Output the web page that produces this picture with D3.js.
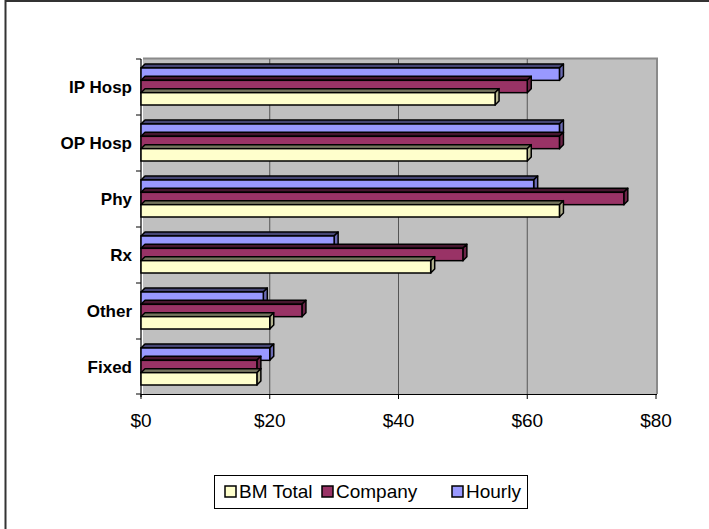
<!DOCTYPE html>
<html>
<head>
<meta charset="utf-8">
<script src="https://cdn.jsdelivr.net/npm/d3@7"></script>
<style>
  body { margin: 0; background: #fff; }
  text { font-family: Arial, "Liberation Sans", sans-serif; }
</style>
</head>
<body>
<svg id="chart" width="709" height="529"></svg>
<script>
// categories top to bottom
const categories = ["IP Hosp", "OP Hosp", "Phy", "Rx", "Other", "Fixed"];
const seriesNames = ["BM Total", "Company", "Hourly"];
const seriesColors = ["#FFFFCC", "#993366", "#9999FF"];
const bmTotal = [55, 60, 65, 45, 20, 18];
const company = [60, 65, 75, 50, 25, 18];
const hourly  = [65, 65, 61, 30, 19, 20];
const xTicks = [0, 20, 40, 60, 80];

const svg = d3.select("#chart");
const depth = 4;

// outer chart border (runs off the right/bottom edge)
svg.append("rect")
   .attr("x", 5.5).attr("y", 1).attr("width", 740).attr("height", 560)
   .style("fill", "#fff").style("stroke", "#333").style("stroke-width", 2);

const x = d3.scaleLinear().domain([0, 80]).range([141, 656]);
const y = d3.scaleBand().domain(categories).range([59, 395]);
// inner order within a band: Hourly on top, BM Total at bottom
const inner = d3.scaleBand().domain(["Hourly", "Company", "BM Total"]).range([9, 46]);

// back wall
svg.append("rect")
   .attr("x", x(0) + 2).attr("y", 58).attr("width", x(80) - x(0) - 1).attr("height", 336)
   .style("fill", "#C0C0C0");
svg.append("path")
   .attr("d", `M${x(0) + 2},58.5 H${x(80) + 1} V394`)
   .style("fill", "none").style("stroke", "#8a8a8a").style("stroke-width", 2);

// gridlines
svg.selectAll("line.grid")
   .data(xTicks.slice(1, -1))
   .enter()
   .append("line")
   .attr("class", "grid")
   .attr("x1", d => x(d)).attr("x2", d => x(d))
   .attr("y1", 59).attr("y2", 394)
   .style("stroke", "#555").style("stroke-width", 1);

// axes lines
svg.append("line")
   .attr("x1", x(0)).attr("x2", x(0)).attr("y1", 59).attr("y2", 397)
   .style("stroke", "#000").style("stroke-width", 1.2);
svg.append("line")
   .attr("x1", x(0)).attr("x2", x(80) + 1).attr("y1", 394.5).attr("y2", 394.5)
   .style("stroke", "#000").style("stroke-width", 1.2);

// category tick marks
svg.selectAll("line.ytick")
   .data(categories.map(c => y(c)).concat([y.range()[1] - 1]))
   .enter()
   .append("line")
   .attr("x1", x(0) - 5).attr("x2", x(0))
   .attr("y1", d => d).attr("y2", d => d)
   .style("stroke", "#000");

// x ticks
svg.selectAll("line.xtick")
   .data(xTicks)
   .enter()
   .append("line")
   .attr("x1", d => x(d)).attr("x2", d => x(d))
   .attr("y1", 394).attr("y2", 399)
   .style("stroke", "#000");

svg.selectAll("text.xlab")
   .data(xTicks)
   .enter()
   .append("text")
   .attr("x", d => x(d)).attr("y", 427)
   .attr("text-anchor", "middle")
   .style("font-size", "19px")
   .text(d => "$" + d);

svg.selectAll("text.ylab")
   .data(categories)
   .enter()
   .append("text")
   .attr("x", 132).attr("y", d => y(d) + y.bandwidth() / 2 + 6)
   .attr("text-anchor", "end")
   .style("font-size", "17px").style("font-weight", "bold")
   .text(d => d);

// bars
const rows = [];
categories.forEach((c, i) => {
  rows.push({cat: c, name: "Hourly", v: hourly[i], color: seriesColors[2]});
  rows.push({cat: c, name: "Company", v: company[i], color: seriesColors[1]});
  rows.push({cat: c, name: "BM Total", v: bmTotal[i], color: seriesColors[0]});
});

const bars = svg.selectAll("g.bar")
   .data(rows)
   .enter()
   .append("g");

bars.append("path")
   .attr("d", d => {
     const x0 = x(0), x1 = x(d.v), y0 = y(d.cat) + inner(d.name);
     return `M${x0},${y0} L${x0 + depth},${y0 - depth} L${x1 + depth},${y0 - depth} L${x1},${y0} Z`;
   })
   .style("fill", d => d3.color(d.color).darker(2.2))
   .style("stroke", "#000").style("stroke-width", 1.5).style("stroke-linejoin", "round");

bars.append("path")
   .attr("d", d => {
     const x1 = x(d.v), y0 = y(d.cat) + inner(d.name), h = inner.bandwidth();
     return `M${x1},${y0} L${x1 + depth},${y0 - depth} L${x1 + depth},${y0 + h - depth} L${x1},${y0 + h} Z`;
   })
   .style("fill", d => d3.color(d.color).darker(1))
   .style("stroke", "#000").style("stroke-width", 1.5).style("stroke-linejoin", "round");

bars.append("rect")
   .attr("x", x(0))
   .attr("y", d => y(d.cat) + inner(d.name))
   .attr("width", d => x(d.v) - x(0))
   .attr("height", inner.bandwidth())
   .style("fill", d => d.color)
   .style("stroke", "#000").style("stroke-width", 1.5);

// legend
const legend = svg.append("g");
legend.append("rect")
   .attr("x", 214.5).attr("y", 475.5).attr("width", 313).attr("height", 33)
   .style("fill", "#fff").style("stroke", "#000");
const legendX = [225, 322, 452];
const li = legend.selectAll("g.item")
   .data(seriesNames)
   .enter()
   .append("g")
   .attr("transform", (d, i) => `translate(${legendX[i]},486)`);
li.append("rect")
   .attr("width", 11).attr("height", 11)
   .style("fill", (d, i) => seriesColors[i])
   .style("stroke", "#000").style("stroke-width", 1.5);
li.append("text")
   .attr("x", 14).attr("y", 12)
   .style("font-size", "19px")
   .text(d => d);
</script>
</body>
</html>
